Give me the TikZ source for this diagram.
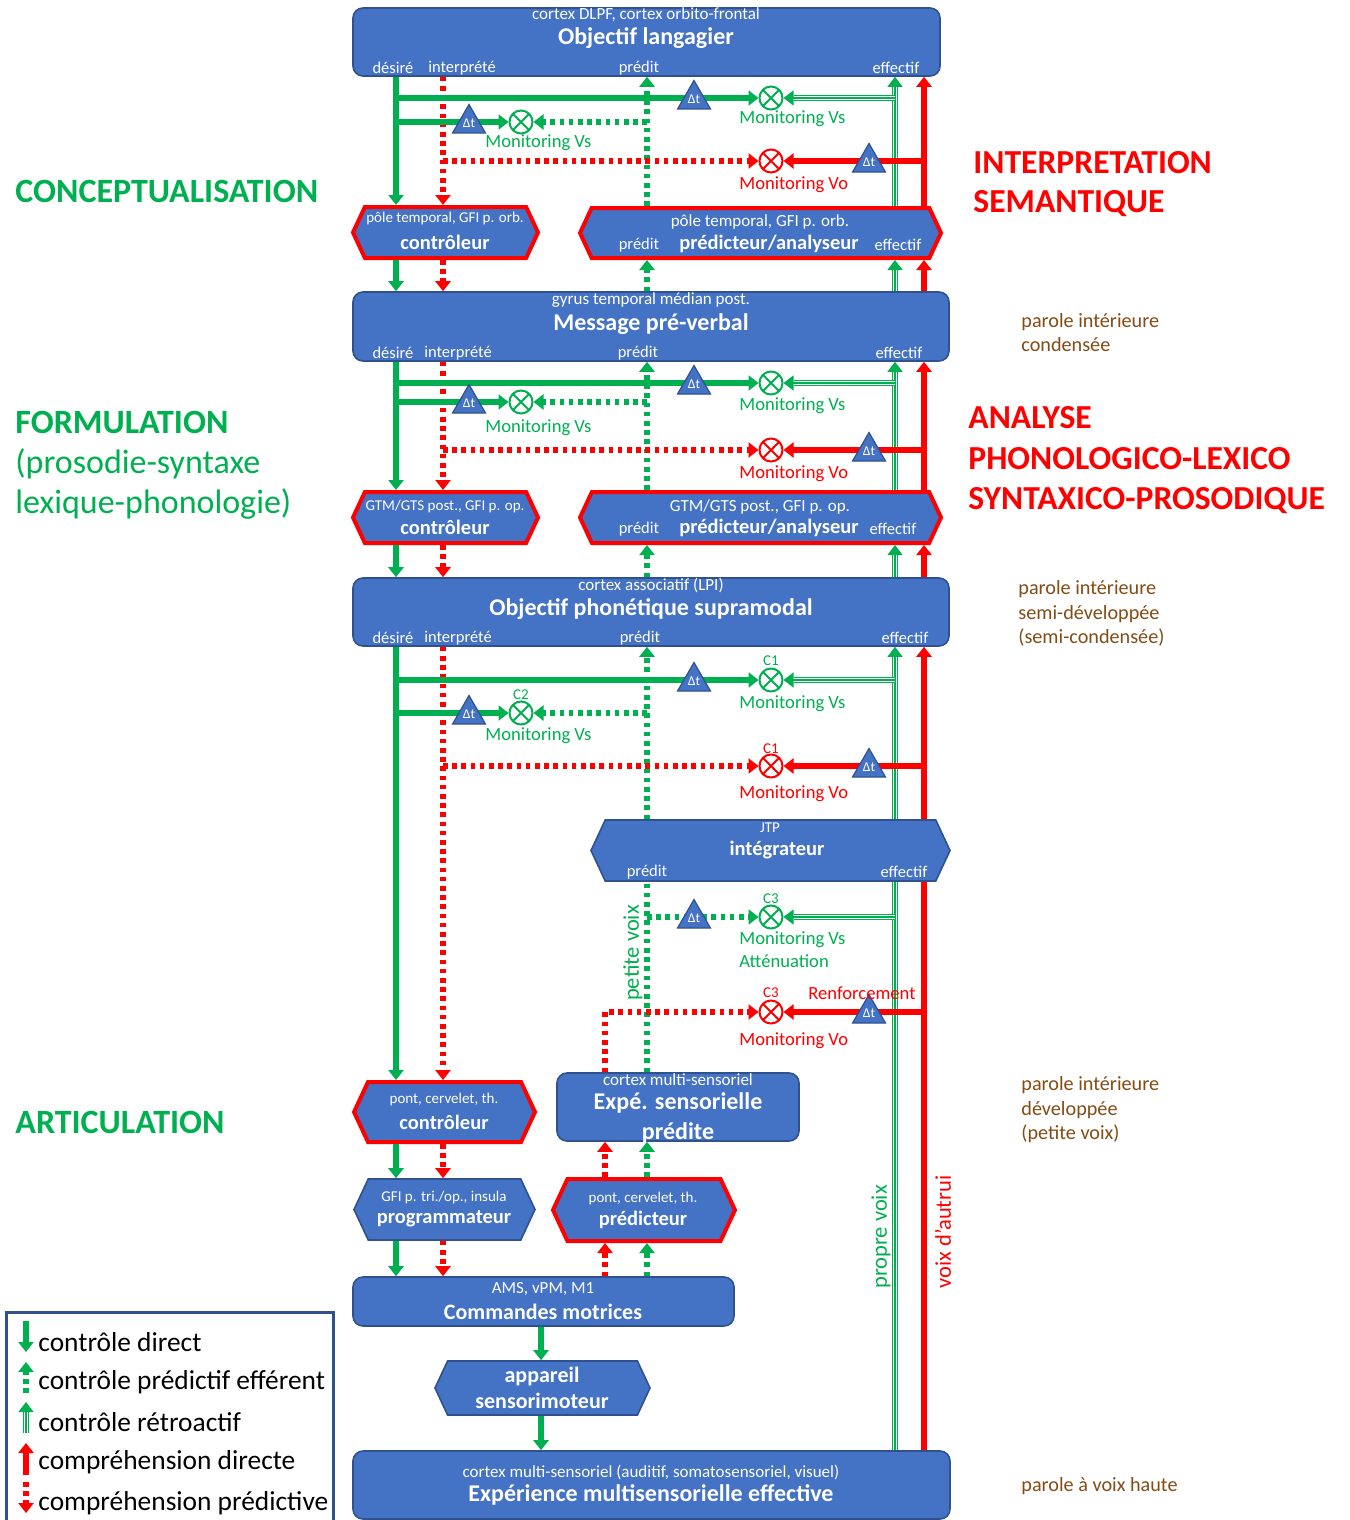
\documentclass[tikz,border=0pt]{standalone}
\usepackage{fontspec}
\setmainfont{Carlito}
\usetikzlibrary{arrows.meta,shapes.symbols,shapes.geometric}
\definecolor{vgreen}{HTML}{00B050}
\definecolor{vred}{HTML}{FF0000}
\definecolor{vblue}{HTML}{4472C4}
\definecolor{bdblue}{HTML}{2F528F}
\definecolor{brun}{HTML}{844C14}
\begin{document}
\begin{tikzpicture}[
        x=0.5pt, y=-0.5pt,
        >={Triangle[length=5pt, width=7.5pt]},
        box/.style={draw=bdblue, fill=vblue, line width=0.8pt, rounded corners=5pt, inner sep=0pt},
        hexa/.style={signal, signal to=west and east, signal pointer angle=130, draw=bdblue, fill=vblue, line width=0.8pt, inner sep=0pt},
        rhexa/.style={hexa, draw=vred, line width=2pt},
        hdr/.style={text=white, inner sep=0pt, font=\fontsize{#1}{#1}\selectfont},
        hdr/.default=8.5,
        ttl/.style={text=white, inner sep=0pt, font=\bfseries\fontsize{#1}{#1}\selectfont},
        ttl/.default=12,
        xcirc/.style={circle, draw=#1, fill=white, line width=1pt, minimum size=11.5pt, inner sep=0pt,
            path picture={\draw[#1, line width=1pt] (path picture bounding box.north west) -- (path picture bounding box.south east)
                (path picture bounding box.north east) -- (path picture bounding box.south west);}},
        dt/.style={regular polygon, regular polygon sides=3, draw=bdblue, fill=vblue, line width=0.6pt,
            minimum size=19pt, inner sep=0pt, text=white, font=\fontsize{6.75}{7}\selectfont},
        mon/.style={anchor=west, inner sep=0pt, font=\fontsize{9.3}{11}\selectfont},
        clab/.style={inner sep=0pt, font=\fontsize{7.5}{8}\selectfont},
        rot/.style={rotate=90, inner sep=0pt, font=\fontsize{11.25}{13}\selectfont},
        phase/.style={anchor=west, inner sep=0pt, align=left, font=\fontsize{17}{20}\selectfont},
        parole/.style={anchor=west, inner sep=0pt, align=left, text=brun, font=\fontsize{10.1}{12.25}\selectfont},
        leg/.style={anchor=west, inner sep=0pt, font=\fontsize{13.7}{16}\selectfont},
        gdir/.style={draw=vgreen, line width=2.6pt},
        gdot/.style={draw=vgreen, line width=2.6pt, dash pattern=on 2.3pt off 2.3pt},
        rdir/.style={draw=vred, line width=2.6pt},
        rdot/.style={draw=vred, line width=2.6pt, dash pattern=on 2.3pt off 2.3pt},
        retro/.style={draw=vgreen, line width=0.55pt,
            preaction={draw=vgreen, line width=3.2pt, -, shorten >=#1},
            preaction={draw=white, line width=2.1pt, -, shorten >=#1}},
        retro/.default=0pt
    ]
    \useasboundingbox (0,0) rectangle (1349,1520);

    % columns of the connectors
    \coordinate (xd) at (396,0);
    \coordinate (xi) at (443,0);
    \coordinate (xm) at (541,0);
    \coordinate (xq) at (605,0);
    \coordinate (xp) at (647,0);
    \coordinate (xe) at (895,0);
    \coordinate (xr) at (924,0);

    % boxes
    \node[box, minimum width=293.5pt, minimum height=34pt] (obj1) at (646.5,42) {};
    \node[box, minimum width=298pt, minimum height=34.5pt] (msg) at (651,326.5) {};
    \node[box, minimum width=298pt, minimum height=34pt] (phon) at (651,612) {};
    \node[box, minimum width=121pt, minimum height=34pt] (expp) at (678,1107) {};
    \node[box, minimum width=190.5pt, minimum height=24.5pt] (cmd) at (543.5,1301.5) {};
    \node[box, minimum width=298.5pt, minimum height=34pt] (expe) at (651.5,1485) {};

    % hexagons
    \node[rhexa, minimum width=92.5pt, minimum height=25.5pt] (ctl1) at (445.5,232.5) {};
    \node[rhexa, minimum width=180.5pt, minimum height=25pt] (pred1) at (760.5,233) {};
    \node[rhexa, minimum width=92.5pt, minimum height=25.5pt] (ctl2) at (445.5,517.5) {};
    \node[rhexa, minimum width=180.5pt, minimum height=25.5pt] (pred2) at (760.5,517.5) {};
    \node[hexa, minimum width=179.5pt, minimum height=30.5pt] (integ) at (770.5,850.5) {};
    \node[rhexa, minimum width=90.5pt, minimum height=30pt] (ctl3) at (444.5,1112) {};
    \node[hexa, minimum width=90.5pt, minimum height=30.5pt] (prog) at (444.5,1209.5) {};
    \node[rhexa, minimum width=91pt, minimum height=31pt] (pred3) at (644,1210) {};
    \node[hexa, minimum width=107.5pt, minimum height=27pt] (app) at (542.5,1388) {};

    % texts of the boxes
    \node[hdr] (obj1h) at (646,15) {cortex DLPF, cortex orbito-frontal};
    \node[ttl] (obj1t) at (646,38) {Objectif langagier};
    \node[hdr=8.25] (obj1d) at (393,68) {désiré};
    \node[hdr=8.25] (obj1i) at (462,68) {interprété};
    \node[hdr=8.25] (obj1p) at (639,68) {prédit};
    \node[hdr=8.25] (obj1e) at (896,68) {effectif};
    \node[hdr] (msgh) at (651,300) {gyrus temporal médian post.};
    \node[ttl] (msgt) at (651,324) {Message pré-verbal};
    \node[hdr=8.25] (msgd) at (393,353) {désiré};
    \node[hdr=8.25] (msgi) at (458,353) {interprété};
    \node[hdr=8.25] (msgp) at (638,353) {prédit};
    \node[hdr=8.25] (msge) at (899,353) {effectif};
    \node[hdr] (phonh) at (651,585) {cortex associatif (LPI)};
    \node[ttl] (phont) at (651,609) {Objectif phonétique supramodal};
    \node[hdr=8.25] (phond) at (393,638) {désiré};
    \node[hdr=8.25] (phoni) at (458,638) {interprété};
    \node[hdr=8.25] (phonp) at (640,638) {prédit};
    \node[hdr=8.25] (phone) at (905,638) {effectif};
    \node[hdr=7.5] (ctl1h) at (445,219) {pôle temporal, GFI p. orb.};
    \node[ttl=10.25] (ctl1t) at (445,242) {contrôleur};
    \node[hdr] (pred1h) at (760,222) {pôle temporal, GFI p. orb.};
    \node[hdr=8.25] (pred1p) at (639,245) {prédit};
    \node[ttl=10.25] (pred1t) at (769,244) {prédicteur/analyseur};
    \node[hdr=8.25] (pred1e) at (898,245) {effectif};
    \node[hdr=7.5] (ctl2h) at (445,506) {GTM/GTS post., GFI p. op.};
    \node[ttl=10.25] (ctl2t) at (445,527) {contrôleur};
    \node[hdr] (pred2h) at (760,507) {GTM/GTS post., GFI p. op.};
    \node[hdr=8.25] (pred2p) at (639,529) {prédit};
    \node[ttl=10.25] (pred2t) at (769,528) {prédicteur/analyseur};
    \node[hdr=8.25] (pred2e) at (893,529) {effectif};
    \node[hdr=7.5] (integh) at (770,828) {JTP};
    \node[ttl=10.25] (integt) at (777,850) {intégrateur};
    \node[hdr=8.25] (integp) at (647,872) {prédit};
    \node[hdr=8.25] (intege) at (904,872) {effectif};
    \node[hdr=7.5] (ctl3h) at (444,1099) {pont, cervelet, th.};
    \node[ttl=10.25] (ctl3t) at (444,1122) {contrôleur};
    \node[hdr] (exppH) at (678,1080) {cortex multi-sensoriel};
    \node[ttl] (expp1) at (678,1103) {Expé. sensorielle};
    \node[ttl] (expp2) at (678,1133) {prédite};
    \node[hdr=7.5] (progh) at (444,1197) {GFI p. tri./op., insula};
    \node[ttl=10.25] (progt) at (444,1219) {programmateur};
    \node[hdr=7.5] (pred3h) at (643,1198) {pont, cervelet, th.};
    \node[ttl=10.25] (pred3t) at (643,1220) {prédicteur};
    \node[hdr] (cmdh) at (543,1289) {AMS, vPM, M1};
    \node[ttl=11] (cmdt) at (543,1312) {Commandes motrices};
    \node[ttl=11] (app1) at (542,1376) {appareil};
    \node[ttl=11] (app2) at (542,1401) {sensorimoteur};
    \node[hdr] (expeh) at (651,1472) {cortex multi-sensoriel (auditif, somatosensoriel, visuel)};
    \node[ttl] (expet) at (651,1495) {Expérience multisensorielle effective};

    % comparators
    \node[xcirc=vgreen] (cA1) at (771,98) {};
    \node[xcirc=vgreen] (cA2) at (521,122) {};
    \node[xcirc=vred] (cA3) at (771,161) {};
    \node[xcirc=vgreen] (cB1) at (771,383) {};
    \node[xcirc=vgreen] (cB2) at (521,402) {};
    \node[xcirc=vred] (cB3) at (771,450) {};
    \node[xcirc=vgreen] (cC1) at (771,680) {};
    \node[xcirc=vgreen] (cC2) at (521,713) {};
    \node[xcirc=vred] (cC3) at (771,766) {};
    \node[xcirc=vgreen] (cC4) at (771,917) {};
    \node[xcirc=vred] (cC5) at (771,1012) {};

    % conceptualisation
    \draw[gdir,->] (obj1.south -| xd) -- (ctl1.north -| xd);
    \draw[rdot,->] (obj1.south -| xi) -- (ctl1.north -| xi);
    \draw[gdot,->] (pred1.north -| xp) -- (obj1.south -| xp);
    \draw[retro=5pt,->] (pred1.north -| xe) -- (obj1.south -| xe);
    \draw[rdir,->] (pred1.north -| xr) -- (obj1.south -| xr);
    \draw[gdir,->] (xd |- cA1) -- (cA1);
    \draw[gdir,->] (xd |- cA2) -- (cA2);
    \draw[gdot,->] (xp |- cA2) -- (cA2);
    \draw[retro=5pt,->] (xe |- cA1) -- (cA1);
    \draw[rdot,->] (xi |- cA3) -- (cA3);
    \draw[rdir,->] (xr |- cA3) -- (cA3);
    \draw[gdir,->] (ctl1.south -| xd) -- (msg.north -| xd);
    \draw[rdot,->] (ctl1.south -| xi) -- (msg.north -| xi);
    \draw[gdot,->] (msg.north -| xp) -- (pred1.south -| xp);
    \draw[retro=5pt,->] (msg.north -| xe) -- (pred1.south -| xe);
    \draw[rdir,->] (msg.north -| xr) -- (pred1.south -| xr);

    % formulation
    \draw[gdir,->] (msg.south -| xd) -- (ctl2.north -| xd);
    \draw[rdot,->] (msg.south -| xi) -- (ctl2.north -| xi);
    \draw[gdot,->] (pred2.north -| xp) -- (msg.south -| xp);
    \draw[retro=5pt,->] (pred2.north -| xe) -- (msg.south -| xe);
    \draw[rdir,->] (pred2.north -| xr) -- (msg.south -| xr);
    \draw[gdir,->] (xd |- cB1) -- (cB1);
    \draw[gdir,->] (xd |- cB2) -- (cB2);
    \draw[gdot,->] (xp |- cB2) -- (cB2);
    \draw[retro=5pt,->] (xe |- cB1) -- (cB1);
    \draw[rdot,->] (xi |- cB3) -- (cB3);
    \draw[rdir,->] (xr |- cB3) -- (cB3);
    \draw[gdir,->] (ctl2.south -| xd) -- (phon.north -| xd);
    \draw[rdot,->] (ctl2.south -| xi) -- (phon.north -| xi);
    \draw[gdot,->] (phon.north -| xp) -- (pred2.south -| xp);
    \draw[retro=5pt,->] (phon.north -| xe) -- (pred2.south -| xe);
    \draw[rdir,->] (phon.north -| xr) -- (pred2.south -| xr);

    % articulation
    \draw[gdir,->] (phon.south -| xd) -- (ctl3.north -| xd);
    \draw[rdot,->] (phon.south -| xi) -- (ctl3.north -| xi);
    \draw[gdot,->] (integ.north -| xp) -- (phon.south -| xp);
    \draw[retro] (expe.north -| xe) -- (integ.south -| xe);
    \draw[retro=5pt,->] (integ.north -| xe) -- (phon.south -| xe);
    \draw[rdir] (expe.north -| xr) -- (integ.south -| xr);
    \draw[rdir,->] (integ.north -| xr) -- (phon.south -| xr);
    \draw[gdir,->] (xd |- cC1) -- (cC1);
    \draw[gdir,->] (xd |- cC2) -- (cC2);
    \draw[gdot,->] (xp |- cC2) -- (cC2);
    \draw[retro=5pt,->] (xe |- cC1) -- (cC1);
    \draw[rdot,->] (xi |- cC3) -- (cC3);
    \draw[rdir,->] (xr |- cC3) -- (cC3);
    \draw[gdot] (expp.north -| xp) -- (integ.south -| xp);
    \draw[gdot,->] (xp |- cC4) -- (cC4);
    \draw[retro=5pt,->] (xe |- cC4) -- (cC4);
    \draw[rdot,->] (expp.north -| xq) |- (cC5);
    \draw[rdir,->] (xr |- cC5) -- (cC5);
    \draw[gdir,->] (ctl3.south -| xd) -- (prog.north -| xd);
    \draw[rdot,->] (ctl3.south -| xi) -- (prog.north -| xi);
    \draw[gdir,->] (prog.south -| xd) -- (cmd.north -| xd);
    \draw[rdot,->] (prog.south -| xi) -- (cmd.north -| xi);
    \draw[gdir,->] (cmd.south -| xm) -- (app.north -| xm);
    \draw[gdir,->] (app.south -| xm) -- (expe.north -| xm);
    \draw[rdot,->] (cmd.north -| xq) -- (pred3.south -| xq);
    \draw[gdot,->] (cmd.north -| xp) -- (pred3.south -| xp);
    \draw[rdot,->] (pred3.north -| xq) -- (expp.south -| xq);
    \draw[gdot,->] (pred3.north -| xp) -- (expp.south -| xp);

    % delays
    \node[dt] (dA1) at (694,99.5) {Δt};
    \node[dt] (dA2) at (469,123.5) {Δt};
    \node[dt] (dA3) at (869,162.5) {Δt};
    \node[dt] (dB1) at (694,384.5) {Δt};
    \node[dt] (dB2) at (469,403.5) {Δt};
    \node[dt] (dB3) at (869,451.5) {Δt};
    \node[dt] (dC1) at (694,681.5) {Δt};
    \node[dt] (dC2) at (469,714.5) {Δt};
    \node[dt] (dC3) at (869,767.5) {Δt};
    \node[dt] (dC4) at (694,918.5) {Δt};
    \node[dt] (dC5) at (869,1013.5) {Δt};

    % monitoring labels
    \node[mon, text=vgreen] (mA1) at (739,119) {Monitoring Vs};
    \node[mon, text=vgreen] (mA2) at (485,143) {Monitoring Vs};
    \node[mon, text=vred] (mA3) at (739,185) {Monitoring Vo};
    \node[mon, text=vgreen] (mB1) at (739,406) {Monitoring Vs};
    \node[mon, text=vgreen] (mB2) at (485,428) {Monitoring Vs};
    \node[mon, text=vred] (mB3) at (739,474) {Monitoring Vo};
    \node[mon, text=vgreen] (mC1) at (739,704) {Monitoring Vs};
    \node[mon, text=vgreen] (mC2) at (485,736) {Monitoring Vs};
    \node[mon, text=vred] (mC3) at (739,794) {Monitoring Vo};
    \node[mon, text=vgreen] (mC4) at (739,940) {Monitoring Vs};
    \node[mon, text=vgreen] (mC4b) at (739,961) {Atténuation};
    \node[mon, text=vred] (mC5) at (739,1041) {Monitoring Vo};
    \node[mon, text=vred] (renf) at (808,993) {Renforcement};
    \node[clab, text=vgreen] (kC1) at (771,661) {C1};
    \node[clab, text=vgreen] (kC2) at (521,695) {C2};
    \node[clab, text=vred] (kC3) at (771,749) {C1};
    \node[clab, text=vgreen] (kC4) at (771,899) {C3};
    \node[clab, text=vred] (kC5) at (771,993) {C3};
    \node[rot, text=vgreen] (petv) at (633,953) {petite voix};
    \node[rot, text=vgreen] (propv) at (881,1237) {propre voix};
    \node[rot, text=vred] (autv) at (943,1232) {voix d’autrui};

    % side labels
    \node[phase, text=vgreen] (conc) at (15,191) {\textbf{CONCEPTUALISATION}};
    \node[phase, text=vgreen] (form) at (15,465) {\textbf{FORMULATION}\\(prosodie-syntaxe\\lexique-phonologie)};
    \node[phase, text=vgreen] (artic) at (15,1122) {\textbf{ARTICULATION}};
    \node[phase, text=vred, font=\bfseries\fontsize{16.8}{19.5}\selectfont] (interp) at (973,184.5) {INTERPRETATION\\SEMANTIQUE};
    \node[phase, text=vred, font=\bfseries\fontsize{16.8}{20.25}\selectfont] (analy) at (968,460.5) {ANALYSE\\PHONOLOGICO-LEXICO\\SYNTAXICO-PROSODIQUE};
    \node[parole] (par1) at (1021,332.5) {parole intérieure\\condensée};
    \node[parole] (par2) at (1018,613.5) {parole intérieure\\semi-développée\\(semi-condensée)};
    \node[parole] (par3) at (1021,1110) {parole intérieure\\développée\\(petite voix)};
    \node[parole] (par4) at (1021,1486) {parole à voix haute};

    % legend
    \node[draw=bdblue, line width=1.5pt, minimum width=163.5pt, minimum height=106pt, inner sep=0pt] (legend) at (169.5,1418) {};
    \coordinate (l1a) at (26,1321);
    \coordinate (l1b) at (26,1352);
    \coordinate (l2a) at (26,1393);
    \coordinate (l2b) at (26,1362);
    \coordinate (l3a) at (26,1433);
    \coordinate (l3b) at (26,1402);
    \coordinate (l4a) at (26,1475);
    \coordinate (l4b) at (26,1443);
    \coordinate (l5a) at (26,1482);
    \coordinate (l5b) at (26,1513);
    \draw[gdir,->] (l1a) -- (l1b);
    \draw[gdot,->] (l2a) -- (l2b);
    \draw[retro=5pt,->] (l3a) -- (l3b);
    \draw[rdir,->] (l4a) -- (l4b);
    \draw[rdot,->] (l5a) -- (l5b);
    \node[leg] (lg1) at (38,1342) {contrôle direct};
    \node[leg] (lg2) at (38,1382) {contrôle prédictif efférent};
    \node[leg] (lg3) at (38,1422) {contrôle rétroactif};
    \node[leg] (lg4) at (38,1462) {compréhension directe};
    \node[leg] (lg5) at (38,1503) {compréhension prédictive};
\end{tikzpicture}
\end{document}
